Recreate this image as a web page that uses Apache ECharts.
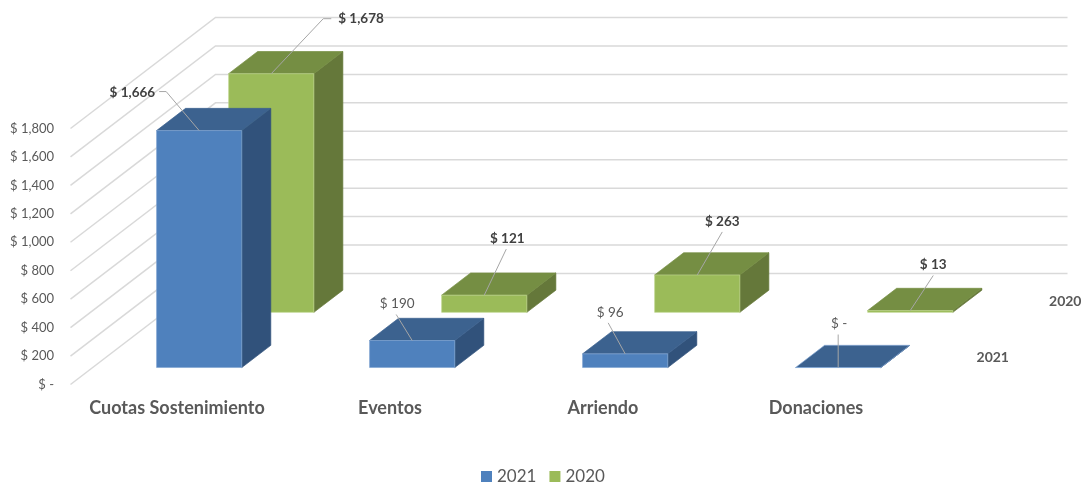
<!DOCTYPE html>
<html>
<head>
<meta charset="utf-8">
<style>html,body{margin:0;padding:0;background:#fff}#c{width:1085px;height:483px}</style>
<script src="https://cdn.jsdelivr.net/npm/echarts@6/dist/echarts.min.js"></script>
</head>
<body>
<div id="c"></div>
<script>
// ---- data ----
const categories = ['Cuotas Sostenimiento', 'Eventos', 'Arriendo', 'Donaciones'];
const values2021 = [1666, 190, 96, 0];
const values2020 = [1678, 121, 263, 13];
const yTicks = [0, 200, 400, 600, 800, 1000, 1200, 1400, 1600, 1800];
const depthNames = ['2021', '2020'];

// ---- layout of the oblique projection (pixels of the wall's depth vector, depth fractions) ----
const WALL_DX = 145, WALL_DY = -111;
const depthRange = { '2021': [0.153, 0.353], '2020': [0.65, 0.85] };
const depthCentre = { '2021': 0.25, '2020': 0.75 };
// leader line + text offsets relative to the front-top centre of each bar
const leaders = {
  '2021': [
    { pts: [[0, 0], [-33, -39], [-40, -39]], tx: -44, ty: -38, align: 'right' },
    { pts: [[0, 0], [-16, -26]], tx: -15, ty: -37, align: 'center' },
    { pts: [[0, 0], [-17, -31]], tx: -15, ty: -41, align: 'center' },
    { pts: [[0, 0], [0, -33]], tx: 1, ty: -44, align: 'center' }
  ],
  '2020': [
    { pts: [[0, 0], [52, -55], [60, -55]], tx: 67, ty: -55, align: 'left' },
    { pts: [[0, 0], [22, -46]], tx: 23, ty: -57, align: 'center' },
    { pts: [[0, 0], [25, -43]], tx: 25, ty: -53, align: 'center' },
    { pts: [[0, 0], [23, -35]], tx: 23, ty: -46, align: 'center' }
  ]
};
const FONT = 'Lato, Carlito, Calibri, sans-serif';

const palette = {
  '2021': { front: '#4F81BD', top: '#3C628F', side: '#31527B', edge: '#83A6D2' },
  '2020': { front: '#9BBB59', top: '#758E43', side: '#65783A', edge: '#BFD58F' }
};

function money(v) {
  if (v === 0) return '$ -';
  return '$ ' + String(v).replace(/\B(?=(\d{3})+$)/g, ',');
}
function project(p, d) { return [p[0] + d * WALL_DX, p[1] + d * WALL_DY]; }

function wallItem(params, api) {
  const v = api.value(0);
  const band = api.size([1, 0])[0];
  const c = api.coord([0, v]);
  const left = c[0] - band / 2;
  const back = project([left, c[1]], 1);
  return {
    type: 'polyline',
    shape: { points: [[left, c[1]], back, [back[0] + band * categories.length, back[1]]] },
    style: { stroke: '#D9D9D9', lineWidth: 1.5, fill: 'none' },
    silent: true
  };
}

function barItem(name) {
  const col = palette[name], range = depthRange[name];
  return function (params, api) {
    const idx = api.value(0), val = api.value(1);
    const band = api.size([1, 0])[0];
    const w = band * 0.4;
    const top0 = api.coord([idx, val]);
    const base0 = api.coord([idx, 0]);
    const d0 = range[0], d1 = range[1];
    const tl = project([top0[0] - w / 2, top0[1]], d0);
    const tr = project([top0[0] + w / 2, top0[1]], d0);
    const bl = project([base0[0] - w / 2, base0[1]], d0);
    const br = project([base0[0] + w / 2, base0[1]], d0);
    const tlb = project([top0[0] - w / 2, top0[1]], d1);
    const trb = project([top0[0] + w / 2, top0[1]], d1);
    const brb = project([base0[0] + w / 2, base0[1]], d1);
    const poly = (pts, fill, stroke) => ({
      type: 'polygon', shape: { points: pts },
      style: { fill: fill, stroke: stroke, lineWidth: 0.7 }
    });
    return {
      type: 'group',
      children: [
        poly([tr, trb, brb, br], col.side, col.side),
        poly([tl, tlb, trb, tr], col.top, val === 0 ? col.edge : col.top),
        poly([tl, tr, br, bl], col.front, col.edge)
      ]
    };
  };
}

function labelItem(name) {
  const range = depthRange[name], spec = leaders[name];
  const bold = name === '2020';
  return function (params, api) {
    const idx = api.value(0), val = api.value(1);
    const a = project(api.coord([idx, val]), range[0]);
    const s = spec[idx];
    const isBold = bold || idx === 0;
    return {
      type: 'group',
      children: [
        {
          type: 'polyline',
          shape: { points: s.pts.map(p => [a[0] + p[0], a[1] + p[1]]) },
          style: { stroke: '#A6A6A6', lineWidth: 1, fill: 'none' }
        },
        {
          type: 'text',
          style: {
            text: money(val), x: a[0] + s.tx, y: a[1] + s.ty,
            align: s.align, verticalAlign: 'middle',
            fill: isBold ? '#404040' : '#595959',
            font: (isBold ? 'bold ' : '') + '13.5px ' + FONT
          }
        }
      ]
    };
  };
}

function depthLabelItem(params, api) {
  const name = depthNames[params.dataIndex];
  const band = api.size([1, 0])[0];
  const c = api.coord([categories.length - 1, 0]);
  const p = project([c[0] + band / 2, c[1]], depthCentre[name]);
  return {
    type: 'text',
    style: {
      text: name, x: p[0] + 34, y: p[1] + 0.5,
      align: 'center', verticalAlign: 'middle',
      fill: '#595959', font: 'bold 14px ' + FONT
    }
  };
}

const pairs = vals => vals.map((v, i) => [i, v]);
const common = { type: 'custom', coordinateSystem: 'cartesian2d', clip: false, animation: false };

const chart = echarts.init(document.getElementById('c'), null, { renderer: 'canvas' });
chart.setOption({
  animation: false,
  backgroundColor: '#fff',
  color: [palette['2021'].front, palette['2020'].front],
  legend: {
    data: ['2021', '2020'], left: 476, top: 463, icon: 'rect',
    itemWidth: 11, itemHeight: 11, itemGap: 13,
    textStyle: { color: '#595959', fontSize: 17, fontFamily: FONT, padding: [0, 0, 0, 0] },
    selectedMode: false
  },
  grid: { left: 70.5, top: 128.5, width: 852, height: 256, containLabel: false },
  xAxis: {
    type: 'category', data: categories,
    axisLine: { show: false }, axisTick: { show: false }, splitLine: { show: false },
    axisLabel: { color: '#595959', fontFamily: FONT, fontWeight: 'bold', fontSize: 18, margin: 15, interval: 0 }
  },
  yAxis: {
    type: 'value', min: 0, max: 1800, interval: 200,
    axisLine: { show: false }, axisTick: { show: false }, splitLine: { show: false },
    axisLabel: { color: '#595959', fontFamily: FONT, fontSize: 13, margin: 16.5, formatter: money }
  },
  series: [
    Object.assign({}, common, { name: 'wall', z: 1, data: yTicks.map(v => [v]), encode: { y: 0 }, renderItem: wallItem, silent: true }),
    Object.assign({}, common, { name: '2020', z: 2, data: pairs(values2020), encode: { x: 0, y: 1 }, renderItem: barItem('2020'), itemStyle: { color: palette['2020'].front } }),
    Object.assign({}, common, { name: '2021', z: 3, data: pairs(values2021), encode: { x: 0, y: 1 }, renderItem: barItem('2021'), itemStyle: { color: palette['2021'].front } }),
    Object.assign({}, common, { name: 'labels2020', z: 4, data: pairs(values2020), encode: { x: 0, y: 1 }, renderItem: labelItem('2020'), silent: true }),
    Object.assign({}, common, { name: 'labels2021', z: 5, data: pairs(values2021), encode: { x: 0, y: 1 }, renderItem: labelItem('2021'), silent: true }),
    Object.assign({}, common, { name: 'depth', z: 4, data: depthNames.map((n, i) => [i]), encode: { x: 0 }, renderItem: depthLabelItem, silent: true })
  ]
});
</script>
</body>
</html>
